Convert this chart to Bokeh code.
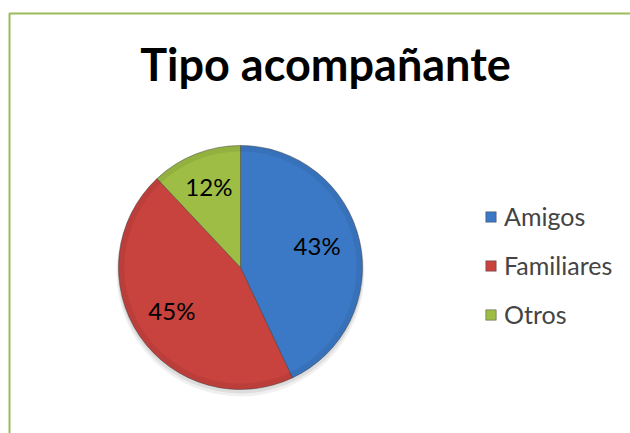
import math
from bokeh.plotting import figure
from bokeh.models import ColumnDataSource, Range1d, Legend, LegendItem, Label, BoxAnnotation
from bokeh.core.properties import value
from bokeh.embed import file_html
from bokeh.resources import INLINE

title_text = "Tipo acompañante"
categories = ["Amigos", "Familiares", "Otros"]
percentages = [43, 45, 12]
colors = ["#3B79C6", "#C8423E", "#9DBD45"]

W, H = 630, 433
p = figure(width=W, height=H, output_backend="svg", toolbar_location=None,
           x_range=Range1d(0, W), y_range=Range1d(0, H),
           x_axis_type=None, y_axis_type=None, min_border=0,
           outline_line_color=None, background_fill_color="white",
           border_fill_color="white")
p.grid.visible = False

# chart area border (green)
p.add_layout(BoxAnnotation(left=9, right=W + 50, top=H - 13, bottom=-50,
                           fill_alpha=0, line_color="#9BBB59", line_alpha=1.0,
                           line_width=2))

cx, cy, r = 240, 166, 122
total = sum(percentages)
starts, ends, lx, ly, labels = [], [], [], [], []
acc = 0.0
for v in percentages:
    a0 = math.pi / 2 - 2 * math.pi * acc / total
    a1 = math.pi / 2 - 2 * math.pi * (acc + v) / total
    starts.append(a1)
    ends.append(a0)
    mid = (a0 + a1) / 2
    lx.append(cx + 0.66 * r * math.cos(mid) - 2)
    ly.append(cy + 0.68 * r * math.sin(mid) + 4)
    labels.append(f"{v}%")
    acc += v

src = ColumnDataSource(dict(x=[cx] * 3, y=[cy] * 3, start=starts, end=ends,
                            color=colors, cat=categories, lx=lx, ly=ly, lab=labels))

# soft shadow
p.circle(x=cx, y=cy - 5, radius=r + 2, fill_color="#000000", fill_alpha=0.06, line_color=None)
p.circle(x=cx, y=cy - 3, radius=r + 1, fill_color="#000000", fill_alpha=0.08, line_color=None)

wr = p.wedge(x="x", y="y", radius=r, start_angle="start", end_angle="end",
             fill_color="color", line_color="#404040", line_alpha=0.6, line_width=0.8,
             source=src)

# subtle bevel rim
p.annulus(x=cx, y=cy, inner_radius=r - 6, outer_radius=r, fill_color="black",
          fill_alpha=0.06, line_color=None)

p.text(x="lx", y="ly", text="lab", source=src, text_align="center", text_baseline="middle",
       text_font=value("Lato"), text_font_size="24px", text_color="black")

p.add_layout(Label(x=325, y=370, text=title_text, text_align="center",
                   text_baseline="alphabetic", text_font="Lato",
                   text_font_size="45px", text_font_style="bold", text_color="black"))

legend = Legend(items=[LegendItem(label=c, renderers=[wr], index=i) for i, c in enumerate(categories)],
                location=(484, 104), orientation="vertical",
                glyph_width=13, glyph_height=13, label_standoff=7, spacing=19,
                label_text_font="Lato", label_text_font_size="25px",
                label_height=29, padding=0, margin=0,
                border_line_color=None, background_fill_alpha=0)
p.add_layout(legend, "center")

open("out.html", "w").write(file_html(p, INLINE))
